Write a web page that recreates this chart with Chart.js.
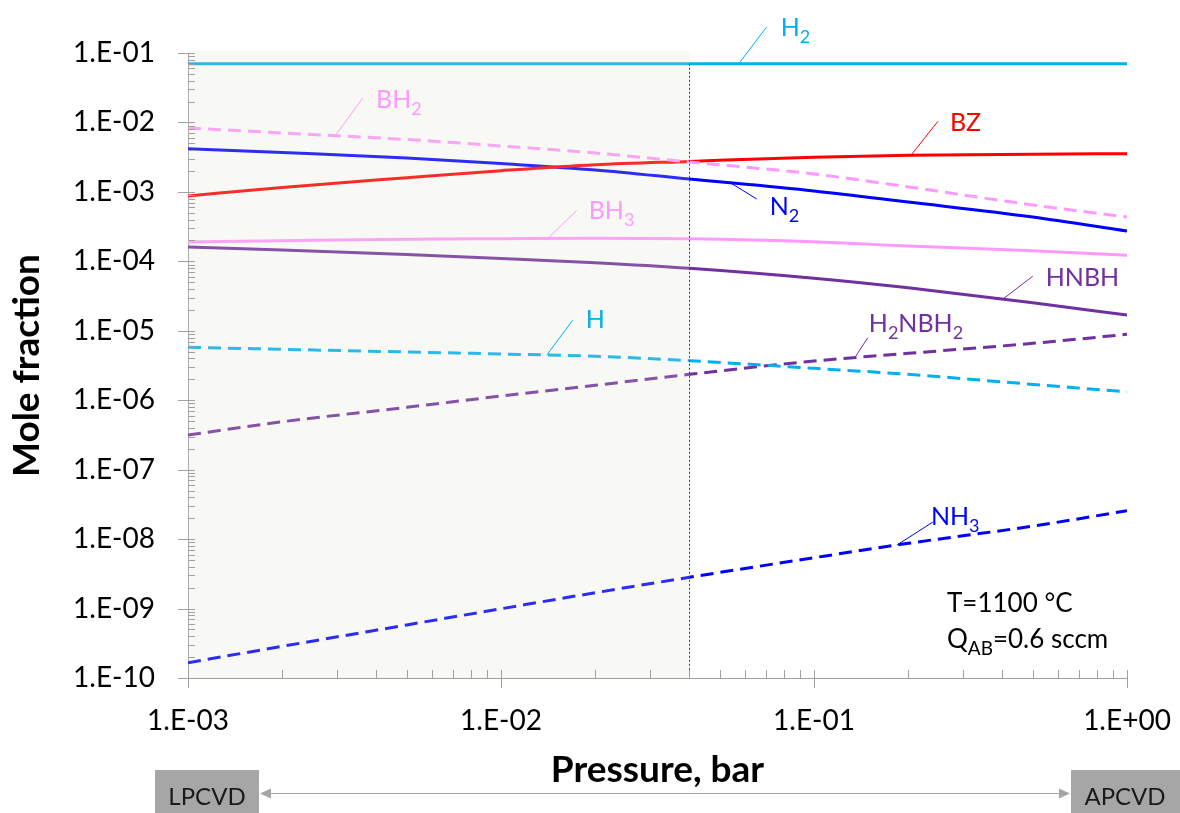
<!DOCTYPE html>
<html>
<head>
<meta charset="utf-8">
<title>Mole fraction vs pressure</title>
<script src="https://cdn.jsdelivr.net/npm/chart.js@4.4.0/dist/chart.umd.min.js"></script>
<style>
  html, body { margin: 0; padding: 0; background: #fff; }
</style>
</head>
<body>
<canvas id="grafico" width="1180" height="813"></canvas>
<script>
// Pressures (bar) where the curves were read
const pressure = [0.001, 0.002, 0.005, 0.01, 0.02, 0.04, 0.1, 0.2, 0.5, 1];

// Mole fraction of each species
const h2     = [0.07, 0.07, 0.07, 0.07, 0.07, 0.07, 0.07, 0.07, 0.07, 0.07];
const bh2    = [8.32e-3, 7.05e-3, 5.68e-3, 4.58e-3, 3.63e-3, 2.69e-3, 1.81e-3, 1.18e-3, 6.47e-4, 4.35e-4];
const bz     = [8.73e-4, 1.16e-3, 1.60e-3, 2.02e-3, 2.46e-3, 2.75e-3, 3.15e-3, 3.36e-3, 3.48e-3, 3.55e-3];
const n2     = [4.19e-3, 3.69e-3, 3.08e-3, 2.56e-3, 2.07e-3, 1.53e-3, 1.03e-3, 7.15e-4, 4.35e-4, 2.73e-4];
const bh3    = [1.90e-4, 1.98e-4, 2.08e-4, 2.12e-4, 2.15e-4, 2.12e-4, 1.92e-4, 1.66e-4, 1.42e-4, 1.22e-4];
const hnbh   = [1.61e-4, 1.46e-4, 1.25e-4, 1.10e-4, 9.55e-5, 7.93e-5, 5.70e-5, 4.15e-5, 2.53e-5, 1.68e-5];
const hAtom  = [5.78e-6, 5.41e-6, 4.95e-6, 4.63e-6, 4.29e-6, 3.71e-6, 2.88e-6, 2.36e-6, 1.69e-6, 1.32e-6];
const h2nbh2 = [3.15e-7, 4.90e-7, 7.90e-7, 1.15e-6, 1.64e-6, 2.36e-6, 3.67e-6, 4.73e-6, 6.59e-6, 8.89e-6];
const nh3    = [1.66e-10, 2.86e-10, 5.81e-10, 9.93e-10, 1.69e-9, 2.82e-9, 5.40e-9, 8.69e-9, 1.54e-8, 2.56e-8];

// Axis decades (labelled ticks)
const xDecades = [1e-3, 1e-2, 1e-1, 1];
const yDecades = [1e-10, 1e-9, 1e-8, 1e-7, 1e-6, 1e-5, 1e-4, 1e-3, 1e-2, 1e-1];

// Upper pressure of the LPCVD shaded zone
const lpcvdLimit = 0.04;

const FONT = 'Lato';
const axisGray = '#A0A0A0';

function sciLabel(v) {
    const e = Math.round(Math.log10(v));
    return '1.E' + (e < 0 ? '-' : '+') + String(Math.abs(e)).padStart(2, '0');
}

function serie(label, values, color, dashed) {
    return {
        label: label,
        data: pressure.map((p, i) => ({ x: p, y: values[i] })),
        borderColor: color,
        borderWidth: 3,
        borderDash: dashed ? [13, 7] : [],
        pointRadius: 0,
        fill: false,
        cubicInterpolationMode: 'monotone'
    };
}

// log-log interpolation, used to put the leader lines on the curves
function valueAt(values, p) {
    const lp = Math.log10(p);
    for (let i = 0; i < pressure.length - 1; i++) {
        const a = Math.log10(pressure[i]);
        const b = Math.log10(pressure[i + 1]);
        if (lp >= a && lp <= b) {
            const t = (lp - a) / (b - a);
            return Math.pow(10, Math.log10(values[i]) * (1 - t) + Math.log10(values[i + 1]) * t);
        }
    }
    return values[values.length - 1];
}

// Data labels with leader lines (offsets in px from the anchor on the curve)
const seriesLabels = [
    { parts: [['H', 0], ['2', 1]], values: h2, p: 0.0575, color: '#00B0F0', end: [28, -37], text: [42, -28] },
    { parts: [['BZ', 0]], values: bz, p: 0.204, color: '#FF0000', end: [27, -34], text: [39, -24] },
    { parts: [['N', 0], ['2', 1]], values: n2, p: 0.0542, color: '#0000FF', end: [26, 16], text: [39, 32] },
    { parts: [['HNBH', 0]], values: hnbh, p: 0.401, color: '#7030A0', end: [30, -23], text: [43, -13] },
    { parts: [['BH', 0], ['2', 1]], values: bh2, p: 0.00295, color: '#FF99FF', end: [28, -38], text: [41, -28] },
    { parts: [['BH', 0], ['3', 1]], values: bh3, p: 0.0141, color: '#FF99FF', end: [29, -28], text: [41, -19] },
    { parts: [['H', 0]], values: hAtom, p: 0.0140, color: '#00B0F0', end: [26, -35], text: [39, -27] },
    { parts: [['H', 0], ['2', 1], ['NBH', 0], ['2', 1]], values: h2nbh2, p: 0.135, color: '#7030A0', end: [13, -20], text: [14, -26] },
    { parts: [['NH', 0], ['3', 1]], values: nh3, p: 0.184, color: '#0000FF', end: [36, -23], text: [34, -20] }
];

function drawRich(ctx, parts, x, baseline, size, color) {
    ctx.fillStyle = color;
    ctx.textAlign = 'left';
    ctx.textBaseline = 'alphabetic';
    let cx = x;
    parts.forEach(([txt, sub]) => {
        const fs = sub ? Math.round(size * 0.72) : size;
        ctx.font = fs + 'px ' + FONT;
        ctx.fillText(txt, cx, baseline + (sub ? 7 : 0));
        cx += ctx.measureText(txt).width;
    });
}

function arrowHead(ctx, x, y, dir) {
    ctx.beginPath();
    ctx.moveTo(x, y);
    ctx.lineTo(x - dir * 11, y - 5);
    ctx.lineTo(x - dir * 11, y + 5);
    ctx.closePath();
    ctx.fill();
}

const decoraciones = {
    id: 'decoraciones',
    afterDatasetsDraw(chart) {
        const { ctx, chartArea: a, scales: { x, y } } = chart;
        const xs = x.getPixelForValue(lpcvdLimit);
        ctx.save();
        // LPCVD zone, translucent over the curves
        ctx.fillStyle = 'rgba(221, 221, 200, 0.2)';
        ctx.fillRect(a.left, a.top - 2, xs - a.left, a.bottom - a.top + 2);
        // dotted limit
        ctx.strokeStyle = '#404040';
        ctx.lineWidth = 1;
        ctx.setLineDash([2, 2]);
        ctx.beginPath();
        ctx.moveTo(Math.round(xs) + 0.5, y.getPixelForValue(h2[0]));
        ctx.lineTo(Math.round(xs) + 0.5, a.bottom);
        ctx.stroke();
        ctx.restore();
    },
    afterDraw(chart) {
        const { ctx, chartArea: a, scales: { x, y } } = chart;
        ctx.save();

        // tick marks: majors cross the axis, minors inside
        ctx.strokeStyle = axisGray;
        ctx.lineWidth = 1;
        xDecades.forEach(d => {
            for (let k = 1; k <= 9; k++) {
                const v = d * k;
                if (v > 1.0001) break;
                const px = Math.round(x.getPixelForValue(v)) + 0.5;
                ctx.beginPath();
                ctx.moveTo(px, a.bottom - 8);
                ctx.lineTo(px, k === 1 ? a.bottom + 10 : a.bottom);
                ctx.stroke();
            }
        });
        yDecades.forEach(d => {
            for (let k = 1; k <= 9; k++) {
                const v = d * k;
                if (v > 0.10001) break;
                const py = Math.round(y.getPixelForValue(v)) + 0.5;
                ctx.beginPath();
                ctx.moveTo(k === 1 ? a.left - 10 : a.left, py);
                ctx.lineTo(a.left + 7, py);
                ctx.stroke();
            }
        });

        // series labels with leader lines
        seriesLabels.forEach(l => {
            const ax = x.getPixelForValue(l.p);
            const ay = y.getPixelForValue(valueAt(l.values, l.p));
            ctx.strokeStyle = l.color;
            ctx.lineWidth = 1;
            ctx.beginPath();
            ctx.moveTo(ax, ay);
            ctx.lineTo(ax + l.end[0], ay + l.end[1]);
            ctx.stroke();
            drawRich(ctx, l.parts, ax + l.text[0], ay + l.text[1], 25, l.color);
        });

        // conditions
        drawRich(ctx, [['T=1100 °C', 0]], a.right - 180, a.bottom - 66, 26, '#000');
        drawRich(ctx, [['Q', 0], ['AB', 1], ['=0.6 sccm', 0]], a.right - 180, a.bottom - 30, 26, '#000');

        // LPCVD <-> APCVD bar below the axis
        const boxTop = 770;
        ctx.fillStyle = '#A6A6A6';
        ctx.fillRect(a.left - 33, boxTop, 104, 813 - boxTop);
        ctx.fillRect(1071, boxTop, 109, 813 - boxTop);
        ctx.fillStyle = '#1A1A1A';
        ctx.font = '24px ' + FONT;
        ctx.textAlign = 'center';
        ctx.textBaseline = 'middle';
        ctx.fillText('LPCVD', a.left - 33 + 52, 797);
        ctx.fillText('APCVD', 1071 + 54, 797);
        ctx.strokeStyle = '#A6A6A6';
        ctx.fillStyle = '#A6A6A6';
        ctx.beginPath();
        ctx.moveTo(a.left + 71 + 10, 793.5);
        ctx.lineTo(1071 - 10, 793.5);
        ctx.stroke();
        arrowHead(ctx, a.left + 72, 793.5, -1);
        arrowHead(ctx, 1070, 793.5, 1);

        ctx.restore();
    }
};

const ctx = document.getElementById('grafico').getContext('2d');
const grafico = new Chart(ctx, {
    type: 'line',
    data: {
        datasets: [
            serie('H2', h2, '#00B0F0', false),
            serie('BH2', bh2, '#FF99FF', true),
            serie('BZ', bz, '#FF0000', false),
            serie('N2', n2, '#0000FF', false),
            serie('BH3', bh3, '#FF99FF', false),
            serie('HNBH', hnbh, '#7030A0', false),
            serie('H', hAtom, '#00B0F0', true),
            serie('H2NBH2', h2nbh2, '#7030A0', true),
            serie('NH3', nh3, '#0000FF', true)
        ]
    },
    options: {
        responsive: false,
        animation: false,
        devicePixelRatio: 1,
        layout: { padding: { left: 0, top: 53, right: 53, bottom: 0 } },
        plugins: {
            legend: { display: false },
            tooltip: { enabled: false }
        },
        scales: {
            x: {
                type: 'logarithmic',
                min: 1e-3,
                max: 1,
                afterBuildTicks: s => { s.ticks = xDecades.map(v => ({ value: v })); },
                afterFit: s => { s.height = 135; },
                // tick marks are drawn by the plugin; tickLength only spaces the labels
                grid: { display: false, drawTicks: true, tickLength: 23 },
                border: { display: true, color: axisGray, width: 1 },
                ticks: {
                    callback: v => sciLabel(v),
                    font: { family: FONT, size: 28 },
                    color: '#000',
                    padding: 3,
                    maxRotation: 0,
                    autoSkip: false
                },
                title: {
                    display: true,
                    text: 'Pressure, bar',
                    font: { family: FONT, size: 37, weight: 'bold' },
                    color: '#000',
                    padding: { top: 0, bottom: 21 }
                }
            },
            y: {
                type: 'logarithmic',
                min: 1e-10,
                max: 1e-1,
                afterBuildTicks: s => { s.ticks = yDecades.map(v => ({ value: v })); },
                afterFit: s => { s.width = 188; },
                grid: { display: false, drawTicks: false },
                border: { display: true, color: axisGray, width: 1 },
                ticks: {
                    callback: v => sciLabel(v),
                    font: { family: FONT, size: 28 },
                    color: '#000',
                    padding: 33,
                    autoSkip: false
                },
                title: {
                    display: true,
                    text: 'Mole fraction',
                    font: { family: FONT, size: 37, weight: 'bold' },
                    color: '#000',
                    padding: { top: 5, bottom: 0 }
                }
            }
        }
    },
    plugins: [decoraciones]
});
</script>
</body>
</html>
